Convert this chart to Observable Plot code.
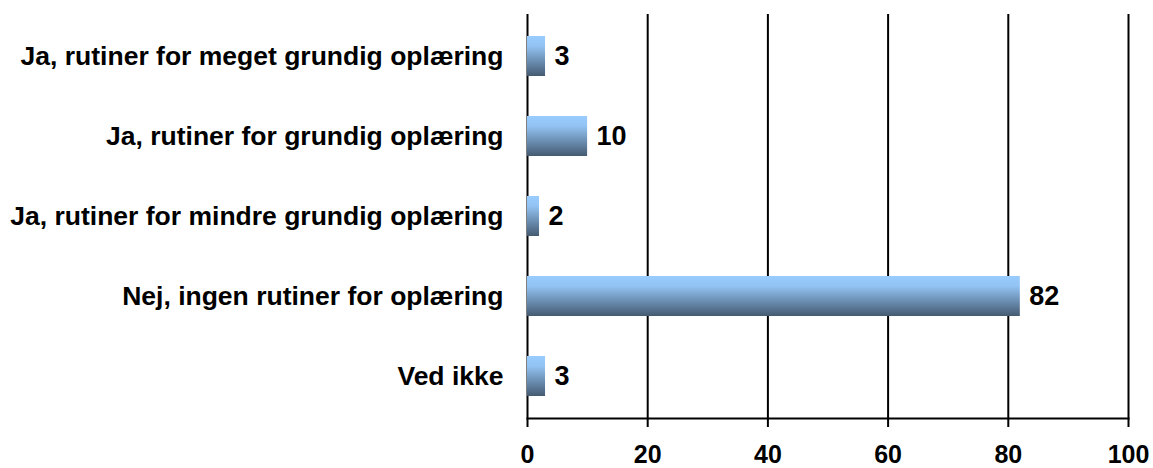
<!DOCTYPE html>
<html>
<head>
<meta charset="utf-8">
<script src="https://cdn.jsdelivr.net/npm/d3@7"></script>
<script src="https://cdn.jsdelivr.net/npm/@observablehq/plot@0.6"></script>
<style>
  html, body { margin: 0; padding: 0; background: #fff; overflow: hidden; }
  #chart { width: 1153px; height: 468px; }
  #chart svg { overflow: visible; }
</style>
</head>
<body>
<div id="chart"></div>
<script>
const categories = [
  "Ja, rutiner for meget grundig oplæring",
  "Ja, rutiner for grundig oplæring",
  "Ja, rutiner for mindre grundig oplæring",
  "Nej, ingen rutiner for oplæring",
  "Ved ikke"
];
const values = [3, 10, 2, 82, 3];
const xTicks = [0, 20, 40, 60, 80, 100];

const data = categories.map((c, i) => ({category: c, value: values[i]}));

const chart = Plot.plot({
  width: 1153,
  height: 468,
  marginLeft: 527,
  marginRight: 25,
  marginTop: 14,
  marginBottom: 50,
  style: {fontFamily: "'Liberation Sans', Arial, sans-serif", fontWeight: "bold", background: "#fff", color: "#000"},
  x: {domain: [0, 100]},
  y: {domain: categories, paddingInner: 0.5, paddingOuter: 0.25},
  marks: [
    Plot.gridX(xTicks, {stroke: "#000", strokeOpacity: 1, strokeWidth: 2}),
    Plot.barX(data, {x1: 0, x2: "value", y: "category", fill: "url(#barGrad)"}),
    Plot.ruleX(data, {x: 0, y: "category", stroke: "#7a7a7a", strokeWidth: 1.5, dx: 0.5, insetTop: 0, insetBottom: 0}),
    Plot.text(data, {x: "value", y: "category", text: d => String(d.value), dx: 9, textAnchor: "start", fontSize: 27, fontWeight: "bold", fill: "#000"}),
    Plot.frame({anchor: "bottom", stroke: "#000", strokeWidth: 2}),
    Plot.axisX(xTicks, {tickSize: 9, tickPadding: 18, fontSize: 25, fontWeight: "bold", strokeWidth: 2, stroke: "#000", label: null}),
    Plot.axisY({tickSize: 0, tickPadding: 24, fontSize: 26.5, fontWeight: "bold", label: null})
  ]
});

const svgNS = "http://www.w3.org/2000/svg";
const defs = document.createElementNS(svgNS, "defs");
defs.innerHTML = `
  <linearGradient id="barGrad" x1="0" y1="0" x2="0" y2="1">
    <stop offset="0" stop-color="#99ccff"/>
    <stop offset="0.25" stop-color="#92c3f3"/>
    <stop offset="1" stop-color="#455a72"/>
  </linearGradient>`;
chart.insertBefore(defs, chart.firstChild);
document.getElementById("chart").appendChild(chart);
</script>
</body>
</html>
